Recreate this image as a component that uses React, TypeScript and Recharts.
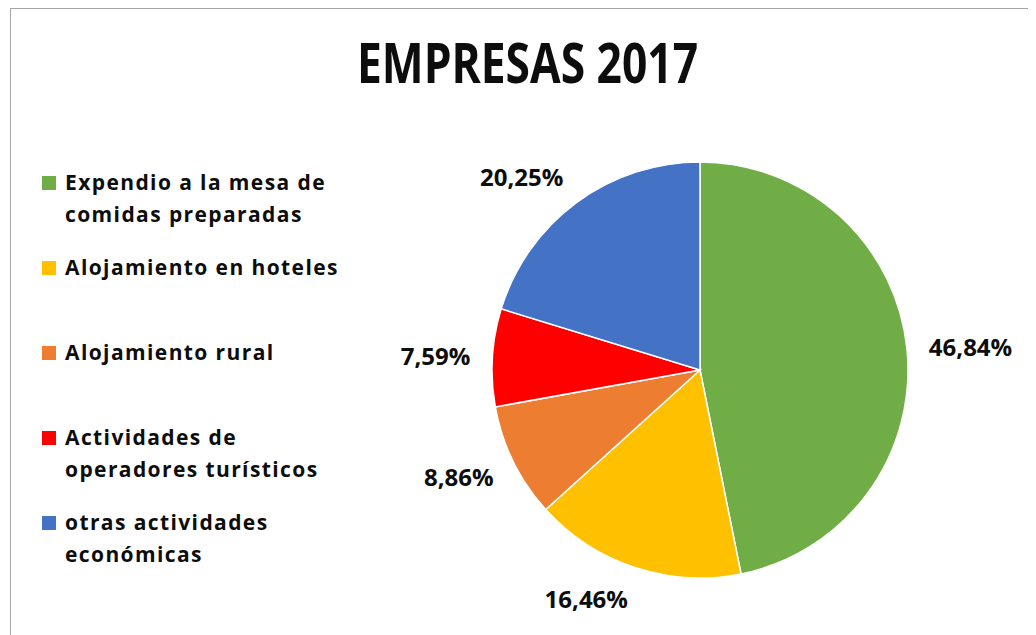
import { Cell, Pie, PieChart } from "recharts";

// Categories and shares (percent)
const CATEGORIES = [
  "Expendio a la mesa de comidas preparadas",
  "Alojamiento en hoteles",
  "Alojamiento rural",
  "Actividades de operadores turísticos",
  "otras actividades económicas",
];
const SHARES = [46.84, 16.46, 8.86, 7.59, 20.25];
const COLORS = ["#70ad47", "#ffc000", "#ed7d31", "#ff0000", "#4472c4"];
const TITLE = "EMPRESAS 2017";

const FONT = "'Open Sans', 'DejaVu Sans', sans-serif";
const RADIAN = Math.PI / 180;

const data = CATEGORIES.map((name, i) => ({ name, value: SHARES[i] }));

const fmt = (v: number) => v.toFixed(2).replace(".", ",") + "%";

function SliceLabel(props: any) {
  const { cx, cy, midAngle, outerRadius, value } = props;
  const dx = Math.cos(-midAngle * RADIAN);
  const dy = Math.sin(-midAngle * RADIAN);
  const r = outerRadius + 22;
  const x = cx + r * dx;
  const y = cy + r * dy + dy * 11;
  return (
    <text
      x={x}
      y={y}
      textAnchor={dx >= 0 ? "start" : "end"}
      dominantBaseline="central"
      fill="#0d0d0d"
      fontFamily={FONT}
      fontWeight={700}
      fontSize={24}
    >
      {fmt(value)}
    </text>
  );
}

// legend on the left, in data order, one block per category
function LegendList() {
  return (
    <div
      style={{
        position: "absolute",
        left: 34,
        top: 158,
        width: 340,
        fontFamily: FONT,
        fontWeight: 700,
        fontSize: 21,
        letterSpacing: 1.4,
        lineHeight: "32px",
        color: "#0d0d0d",
      }}
    >
      {CATEGORIES.map((name, i) => (
        <div key={name} style={{ display: "flex", height: 85 }}>
          <span
            style={{
              display: "inline-block",
              width: 14,
              height: 14,
              marginTop: 10,
              marginRight: 9,
              flex: "none",
              backgroundColor: COLORS[i],
            }}
          />
          <span style={{ width: 300 }}>{name}</span>
        </div>
      ))}
    </div>
  );
}

export default function App() {
  return (
    <div style={{ position: "relative", width: 1028, height: 627 }}>
      <PieChart
        width={1028}
        height={627}
        margin={{ top: 0, right: 0, bottom: 0, left: 0 }}
        style={{ position: "absolute", left: 0, top: 0 }}
      >
        <text
          x={349}
          y={75}
          textLength={341}
          lengthAdjust="spacingAndGlyphs"
          fontFamily={FONT}
          fontWeight={700}
          fontSize={55}
          fill="#0d0d0d"
        >
          {TITLE}
        </text>
        <Pie
          data={data}
          dataKey="value"
          nameKey="name"
          cx={692}
          cy={362}
          outerRadius={208}
          startAngle={90}
          endAngle={-270}
          stroke="#ffffff"
          strokeWidth={1.5}
          label={SliceLabel}
          labelLine={false}
          isAnimationActive={false}
        >
          {data.map((d, i) => (
            <Cell key={d.name} fill={COLORS[i]} />
          ))}
        </Pie>
      </PieChart>
      <LegendList />
      {/* chart frame: only top and left edges are visible in the crop */}
      <div
        style={{
          position: "absolute",
          left: 2,
          top: 0,
          width: 1026,
          height: 627,
          borderTop: "1px solid #a6a6a6",
          borderLeft: "1px solid #a6a6a6",
          pointerEvents: "none",
          zIndex: 1,
        }}
      />
    </div>
  );
}
